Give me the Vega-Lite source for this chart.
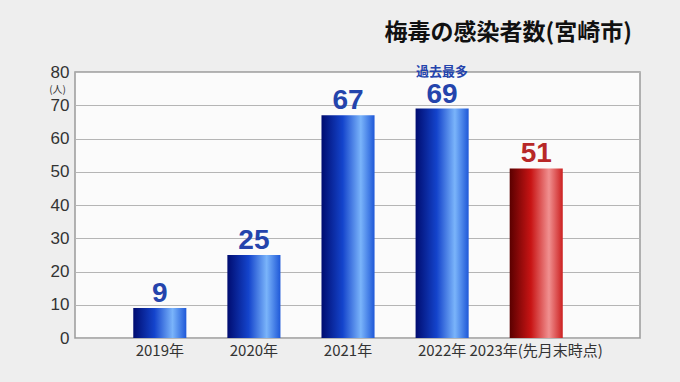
{
  "$schema": "https://vega.github.io/schema/vega-lite/v6.json",
  "width": 565,
  "height": 266,
  "autosize": "none",
  "padding": {"left": 75, "top": 72, "right": 40, "bottom": 44},
  "background": "#eeeeee",
  "title": {
    "text": "梅毒の感染者数(宮崎市)",
    "anchor": "end",
    "orient": "top",
    "offset": 18,
    "font": "Noto Sans CJK JP",
    "fontSize": 23,
    "fontWeight": "bold",
    "color": "#111111",
    "dx": -8
  },
  "config": {
    "view": {"stroke": "#9a9a9a", "strokeWidth": 1.5, "fill": "#fbfbfb"},
    "font": "Noto Sans CJK JP"
  },
  "data": {
    "values": [
      {"year": "2019年", "count": 9, "latest": false, "note": ""},
      {"year": "2020年", "count": 25, "latest": false, "note": ""},
      {"year": "2021年", "count": 67, "latest": false, "note": ""},
      {"year": "2022年", "count": 69, "latest": false, "note": "過去最多"},
      {"year": "2023年(先月末時点)", "count": 51, "latest": true, "note": ""}
    ]
  },
  "encoding": {
    "x": {
      "field": "year",
      "type": "nominal",
      "sort": null,
      "scale": {"paddingInner": 0.436, "paddingOuter": 0.72, "align": 0.43},
      "axis": {
        "title": null,
        "labelAngle": 0,
        "labelFontSize": 15,
        "labelColor": "#333333",
        "labelFont": "Noto Sans CJK JP",
        "labelPadding": 5,
        "ticks": false,
        "domain": false
      }
    },
    "y": {
      "field": "count",
      "type": "quantitative",
      "scale": {"domain": [0, 80]},
      "axis": {
        "title": "(人)",
        "titleAngle": 0,
        "titleFontSize": 10,
        "titleFontWeight": "normal",
        "titleColor": "#333333",
        "titleX": -18,
        "titleY": 17,
        "titleAlign": "center",
        "titleBaseline": "middle",
        "values": [0, 10, 20, 30, 40, 50, 60, 70, 80],
        "labelFontSize": 17,
        "labelFont": "Liberation Sans",
        "labelColor": "#333333",
        "labelPadding": 6,
        "ticks": false,
        "domain": false,
        "gridColor": "#b5b5b5",
        "gridWidth": 1.2
      }
    }
  },
  "layer": [
    {
      "mark": {"type": "bar"},
      "encoding": {
        "color": {
          "condition": {
            "test": "datum.latest",
            "value": {
              "gradient": "linear", "x1": 0, "x2": 1, "y1": 0, "y2": 0,
              "stops": [
                {"offset": 0, "color": "#5a0000"},
                {"offset": 0.4, "color": "#c81414"},
                {"offset": 0.74, "color": "#f09090"},
                {"offset": 1, "color": "#cc2020"}
              ]
            }
          },
          "value": {
            "gradient": "linear", "x1": 0, "x2": 1, "y1": 0, "y2": 0,
            "stops": [
              {"offset": 0, "color": "#000c70"},
              {"offset": 0.4, "color": "#1444cc"},
              {"offset": 0.74, "color": "#7ab4fa"},
              {"offset": 1, "color": "#1e58d8"}
            ]
          }
        }
      }
    },
    {
      "mark": {"type": "text", "baseline": "alphabetic", "dy": -6, "fontSize": 28, "fontWeight": "bold", "font": "Liberation Sans"},
      "encoding": {
        "text": {"field": "count", "type": "quantitative"},
        "color": {
          "condition": {"test": "datum.latest", "value": "#b82828"},
          "value": "#2444ac"
        }
      }
    },
    {
      "mark": {"type": "text", "baseline": "alphabetic", "dy": -33, "fontSize": 13, "fontWeight": "bold", "font": "Noto Sans CJK JP", "color": "#2444ac"},
      "encoding": {
        "text": {"field": "note", "type": "nominal"}
      }
    }
  ]
}
